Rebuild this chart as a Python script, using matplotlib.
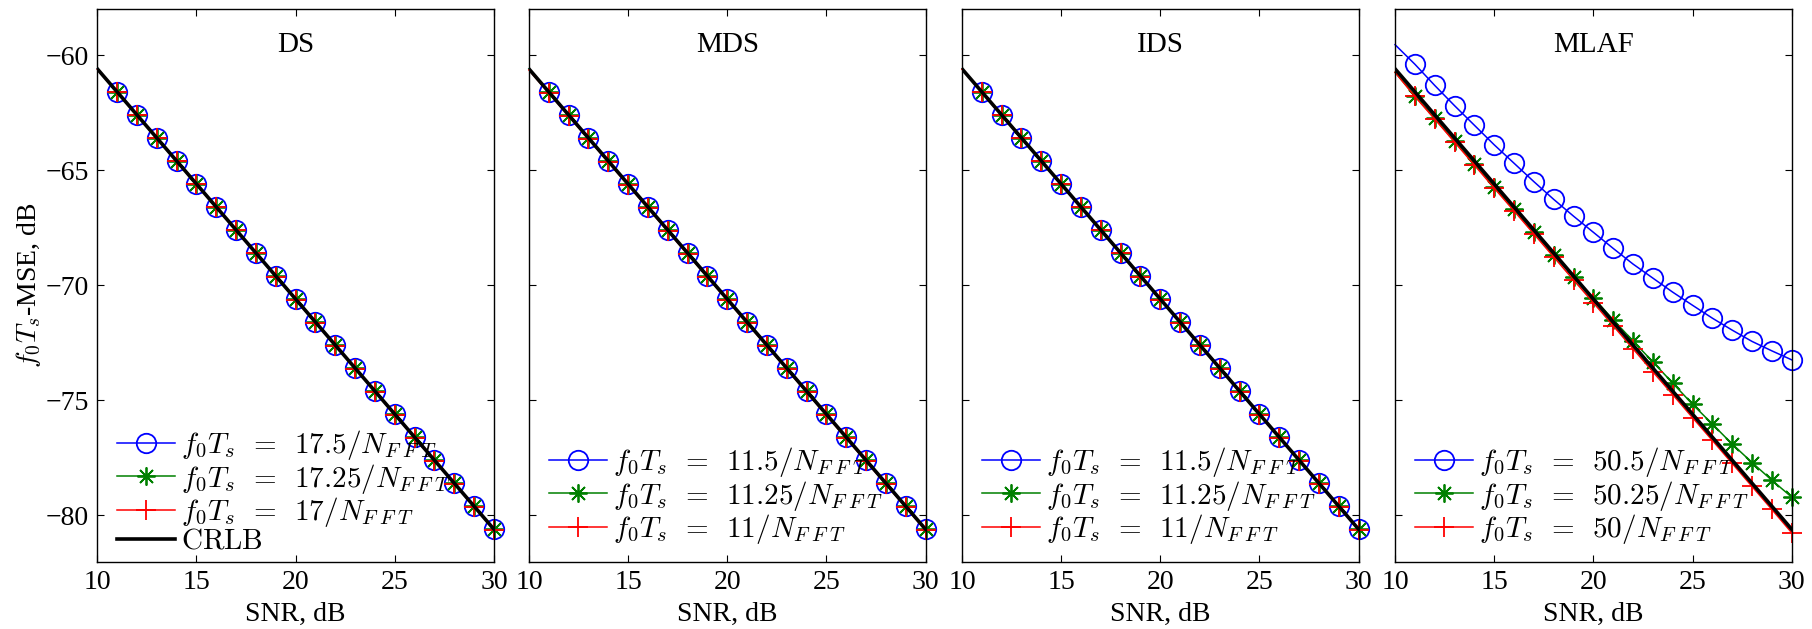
import matplotlib
matplotlib.use("Agg")
import matplotlib.pyplot as plt

plt.rcParams['font.family'] = ['Liberation Serif', 'DejaVu Serif']
plt.rcParams['mathtext.fontset'] = 'cm'

snr = [10, 11, 12, 13, 14, 15, 16, 17, 18, 19, 20, 21, 22, 23, 24, 25, 26, 27, 28, 29, 30]
xticks = [10, 15, 20, 25, 30]
yticks = [-80, -75, -70, -65, -60]

crlb = [-60.6, -61.6, -62.6, -63.6, -64.6, -65.6, -66.6, -67.6, -68.6, -69.6, -70.6,
        -71.6, -72.6, -73.6, -74.6, -75.6, -76.6, -77.6, -78.6, -79.6, -80.6]

# DS
ds_a = [-60.6, -61.6, -62.6, -63.6, -64.6, -65.6, -66.6, -67.6, -68.6, -69.6, -70.6,
        -71.6, -72.6, -73.6, -74.6, -75.6, -76.6, -77.6, -78.6, -79.6, -80.6]
ds_b = [-60.6, -61.6, -62.6, -63.6, -64.6, -65.6, -66.6, -67.6, -68.6, -69.6, -70.6,
        -71.6, -72.6, -73.6, -74.6, -75.6, -76.6, -77.6, -78.6, -79.6, -80.6]
ds_c = [-60.62, -61.62, -62.62, -63.62, -64.62, -65.62, -66.62, -67.62, -68.62, -69.62, -70.62,
        -71.62, -72.62, -73.62, -74.62, -75.62, -76.62, -77.62, -78.62, -79.62, -80.62]
# MDS
mds_a = [-60.6, -61.6, -62.6, -63.6, -64.6, -65.6, -66.6, -67.6, -68.6, -69.6, -70.6,
         -71.6, -72.6, -73.6, -74.6, -75.6, -76.6, -77.6, -78.6, -79.6, -80.6]
mds_b = [-60.6, -61.6, -62.6, -63.6, -64.6, -65.6, -66.6, -67.6, -68.6, -69.6, -70.6,
         -71.6, -72.6, -73.6, -74.6, -75.6, -76.6, -77.6, -78.6, -79.6, -80.6]
mds_c = [-60.65, -61.65, -62.65, -63.65, -64.65, -65.65, -66.65, -67.65, -68.65, -69.65, -70.65,
         -71.65, -72.65, -73.65, -74.65, -75.65, -76.65, -77.65, -78.65, -79.65, -80.65]
# IDS
ids_a = [-60.6, -61.6, -62.6, -63.6, -64.6, -65.6, -66.6, -67.6, -68.6, -69.6, -70.6,
         -71.6, -72.6, -73.6, -74.6, -75.6, -76.6, -77.6, -78.6, -79.6, -80.6]
ids_b = [-60.6, -61.6, -62.6, -63.6, -64.6, -65.6, -66.6, -67.6, -68.6, -69.6, -70.6,
         -71.6, -72.6, -73.6, -74.6, -75.6, -76.6, -77.6, -78.6, -79.6, -80.6]
ids_c = [-60.62, -61.62, -62.62, -63.62, -64.62, -65.62, -66.62, -67.62, -68.62, -69.62, -70.62,
         -71.62, -72.62, -73.62, -74.62, -75.62, -76.62, -77.62, -78.62, -79.62, -80.62]
# MLAF
mlaf_a = [-59.55, -60.4, -61.32, -62.2, -63.05, -63.9, -64.7, -65.5, -66.27, -67.0, -67.7,
          -68.4, -69.08, -69.69, -70.3, -70.87, -71.43, -71.95, -72.44, -72.85, -73.24]
mlaf_b = [-60.75, -61.76, -62.75, -63.75, -64.72, -65.73, -66.7, -67.7, -68.68, -69.63, -70.54,
          -71.5, -72.42, -73.33, -74.25, -75.17, -76.03, -76.9, -77.7, -78.47, -79.2]
mlaf_c = [-60.75, -61.8, -62.78, -63.78, -64.78, -65.78, -66.77, -67.77, -68.77, -69.77, -70.76,
          -71.76, -72.76, -73.76, -74.75, -75.75, -76.74, -77.74, -78.74, -79.74, -80.75]

titles = ['DS', 'MDS', 'IDS', 'MLAF']
freq_labels = [['17.5', '17.25', '17'], ['11.5', '11.25', '11'],
               ['11.5', '11.25', '11'], ['50.5', '50.25', '50']]
series = [(ds_a, ds_b, ds_c), (mds_a, mds_b, mds_c), (ids_a, ids_b, ids_c), (mlaf_a, mlaf_b, mlaf_c)]


def mk_label(v):
    return r'$f_0T_s\ \,=\ \,' + v + r'/N_{F\;F\;T}$'


fig = plt.figure(figsize=(18.12, 6.29), dpi=100)
lefts = [0.0537, 0.2919, 0.5309, 0.7699]
W, B, H = 0.2189, 0.1073, 0.8784
FS = 20
LFS = 21
blue, green, red = (0, 0, 1), (0, 0.5, 0), (1, 0, 0)
mev = slice(1, None)

for i in range(4):
    ax = fig.add_axes([lefts[i], B, W, H])
    a, b, c = series[i]
    la, lb, lc = [mk_label(v) for v in freq_labels[i]]
    ax.plot(snr, a, color=blue, lw=1.1, marker='o', ms=14, mfc='none', mew=1.3,
            markevery=mev, label=la, clip_on=False)
    ax.plot(snr, b, color=green, lw=1.1, marker=(8, 2, 0), ms=13, mew=1.3,
            markevery=mev, label=lb, clip_on=False)
    ax.plot(snr, c, color=red, lw=1.1, marker='+', ms=15, mew=1.3,
            markevery=mev, label=lc, clip_on=False)
    ax.plot(snr, crlb, color='black', lw=2.6,
            label=r'$\mathrm{CRLB}$' if i == 0 else None)
    ax.set_xlim(10, 30)
    ax.set_ylim(-82, -58)
    ax.set_xticks(xticks)
    ax.set_yticks(yticks)
    ax.set_xticklabels([str(t) for t in xticks])
    ax.set_yticklabels(['\u221280', '\u221275', '\u221270', '\u221265', '\u221260'])
    ax.tick_params(direction='in', top=True, right=True, length=5, width=0.8,
                   labelsize=FS, pad=6)
    if i > 0:
        ax.tick_params(labelleft=False)
    for s in ax.spines.values():
        s.set_linewidth(1.0)
    ax.set_xlabel('SNR, dB', fontsize=FS, labelpad=5)
    ax.text(0.5, 0.922, titles[i], transform=ax.transAxes, ha='center',
            va='baseline', fontsize=21)
    if i == 0:
        ax.set_ylabel(r'$f_0T_s$-MSE, dB', fontsize=FS, labelpad=2)
        leg_y = 0.012
    else:
        leg_y = 0.028
    leg = ax.legend(loc='lower left', bbox_to_anchor=(0.05, leg_y), frameon=False,
                    fontsize=LFS, handlelength=2.0, handletextpad=0.2,
                    labelspacing=-0.02, borderpad=0, borderaxespad=0)

fig.savefig('out.png', dpi=100)
